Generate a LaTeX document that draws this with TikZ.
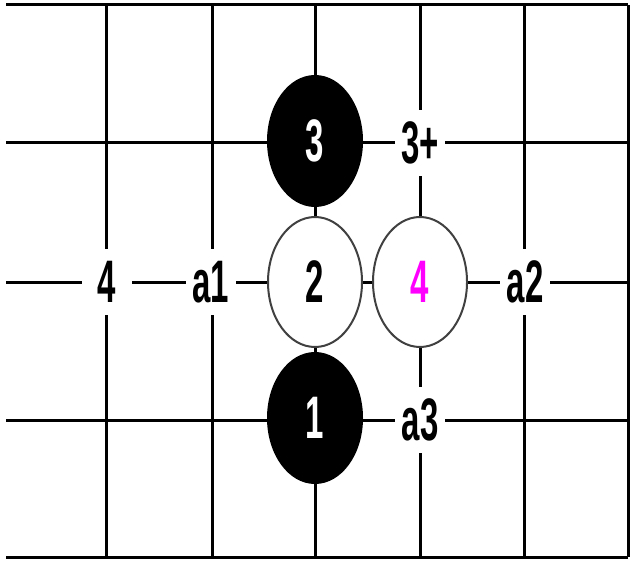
\documentclass[tikz,border=0pt]{standalone}
\usepackage{fontspec}
\usetikzlibrary{shapes.geometric}
\newfontfamily\gofont[FakeStretch=0.55]{Liberation Sans}
\definecolor{pinkmark}{RGB}{255,0,255}
\begin{document}
\begin{tikzpicture}[x=0.5pt,y=-0.5pt,
    font=\gofont\bfseries\fontsize{30}{34}\selectfont,
    grid line/.style={line width=1.5pt},
    black stone/.style={ellipse, inner sep=0pt, fill=black, text=white,
                        minimum width=48pt, minimum height=66pt},
    white stone/.style={ellipse, inner sep=0pt, fill=white, draw=black!75,
                        line width=1pt, minimum width=47pt, minimum height=65pt},
    point label/.style={fill=white, inner sep=0pt,
                        minimum width=25pt, minimum height=33pt}]
      \useasboundingbox (0,0) rectangle (630,561);
      % lignes horizontales
      \foreach \y in {5,143,282,420,557} {
        \draw[grid line] (6,\y) -- (628,\y);
      }
      % lignes verticales
      \foreach \x in {106,212,315,420,524,628} {
        \draw[grid line] (\x,5) -- (\x,557);
      }
      % pierres
      \node[black stone] (s3) at (315,141) {3};
      \node[white stone] (s2) at (315,282) {2};
      \node[white stone, text=pinkmark] (s4) at (420,282) {4};
      \node[black stone] (s1) at (315,418) {1};
      % points marqués
      \node[point label] (p3plus) at (420,143) {3+};
      \node[point label] (p4) at (107,282) {4};
      \node[point label] (pa1) at (211,282) {a1};
      \node[point label] (pa2) at (525,282) {a2};
      \node[point label] (pa3) at (420,420) {a3};
\end{tikzpicture}
\end{document}
